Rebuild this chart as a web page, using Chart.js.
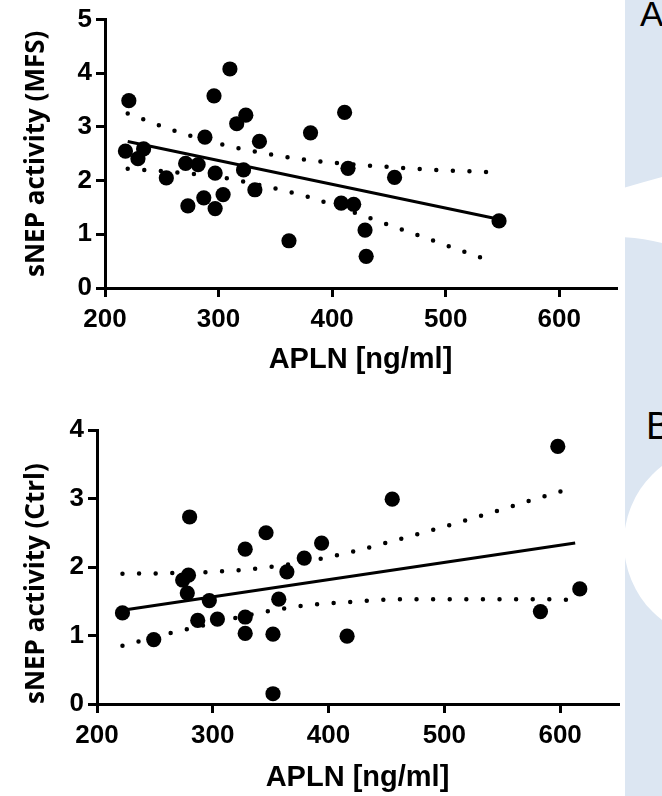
<!DOCTYPE html>
<html>
<head>
<meta charset="utf-8">
<script src="https://cdn.jsdelivr.net/npm/chart.js@4.4.1/dist/chart.umd.min.js"></script>
<style>
  html, body { margin: 0; padding: 0; background: #fff; }
  #page { position: relative; width: 662px; height: 796px; overflow: hidden; }
  #panel { position: absolute; left: 625px; top: 0; }
  .wrap { position: absolute; left: 0; width: 662px; }
  #wrapA { top: 0; height: 390px; }
  #wrapB { top: 390px; height: 406px; }
  .lbl { position: absolute; font-family: "Liberation Sans", Arial, sans-serif; color: #000; line-height: 1.15; }
</style>
</head>
<body>
<div id="page">
  <svg id="panel" width="37" height="796" viewBox="625 0 37 796">
    <rect x="625" y="0" width="37" height="796" fill="#dce6f2"/>
    <path d="M620 189 Q640 183 662 177 L662 243 Q642 238 620 237 Z" fill="#fff"/>
    <circle cx="721" cy="543" r="97" fill="#fff"/>
  </svg>
  <div class="lbl" style="left:640px;top:-6px;font-size:35px;">A</div>
  <div class="lbl" style="left:646px;top:405px;font-size:38px;">B</div>
  <div class="wrap" id="wrapA"><canvas id="chartMfs" width="662" height="390"></canvas></div>
  <div class="wrap" id="wrapB"><canvas id="chartCtrl" width="662" height="406"></canvas></div>
</div>
<script>
// A) MFS
const aplnMfs = [221, 310, 296, 316, 324, 288, 336, 218, 234, 229, 254, 271, 282, 297, 322,
                 332, 304, 287, 273, 297, 362, 411, 381, 414, 455, 408, 419, 429, 430, 547];
const snepMfs = [3.49, 4.08, 3.58, 3.06, 3.22, 2.81, 2.73, 2.55, 2.59, 2.41, 2.05, 2.32, 2.30, 2.14, 2.20,
                 1.83, 1.74, 1.68, 1.53, 1.48, 0.88, 3.27, 2.89, 2.23, 2.06, 1.58, 1.56, 1.08, 0.59, 1.25];
const fitXMfs = [220, 547];
const fitYMfs = [2.73, 1.28];
const ciXMfs = [220, 260, 300, 340, 380, 420, 460, 500, 540];
const ciHiMfs = [3.25, 2.94, 2.69, 2.51, 2.38, 2.30, 2.24, 2.19, 2.16];
const ciLoMfs = [2.22, 2.16, 2.07, 1.90, 1.69, 1.40, 1.10, 0.80, 0.50];
const yTicksMfs = [0, 1, 2, 3, 4, 5];

// B) Ctrl
const aplnCtrl = [280, 346, 328, 279, 274, 278, 364, 379, 394, 455, 598, 297,
                  222, 357, 287, 304, 328, 328, 352, 249, 352, 416, 583, 617];
const snepCtrl = [2.73, 2.50, 2.26, 1.88, 1.81, 1.62, 1.93, 2.13, 2.35, 2.99, 3.76, 1.51,
                  1.33, 1.53, 1.22, 1.24, 1.27, 1.03, 1.02, 0.94, 0.15, 0.99, 1.35, 1.68];
const fitXCtrl = [222, 613];
const fitYCtrl = [1.37, 2.35];
const ciXCtrl = [222, 260, 300, 340, 380, 420, 460, 500, 540, 580, 612];
const ciHiCtrl = [1.90, 1.91, 1.93, 1.98, 2.08, 2.22, 2.40, 2.59, 2.79, 3.00, 3.16];
const ciLoCtrl = [0.85, 1.02, 1.18, 1.33, 1.44, 1.49, 1.53, 1.53, 1.53, 1.53, 1.52];
const yTicksCtrl = [0, 1, 2, 3, 4];

const xTicks = [200, 300, 400, 500, 600];
const xLabel = "APLN [ng/ml]";

const FONT = "'Liberation Sans', Arial, sans-serif";
const pts = (xs, ys) => xs.map((x, i) => ({ x, y: ys[i] }));

function dotted(xs, ys) {
  return {
    data: pts(xs, ys),
    showLine: true,
    borderColor: "#000",
    borderWidth: 4.5,
    borderDash: [0, 16.6],
    borderCapStyle: "round",
    pointRadius: 0,
    cubicInterpolationMode: "monotone",
    clip: false,
  };
}

function makeChart(id, d) {
  return new Chart(document.getElementById(id), {
    type: "scatter",
    data: {
      datasets: [
        { data: pts(d.x, d.y), pointRadius: 7.6, pointHoverRadius: 7.6,
          backgroundColor: "#000", borderWidth: 0, clip: false },
        { data: pts(d.fitX, d.fitY), showLine: true, borderColor: "#000",
          borderWidth: 3, pointRadius: 0, clip: false },
        dotted(d.ciX, d.ciHi),
        dotted(d.ciX, d.ciLo),
      ],
    },
    options: {
      responsive: false,
      animation: false,
      events: [],
      layout: { padding: { left: 0, top: d.padTop, right: d.padRight, bottom: 0 } },
      plugins: { legend: { display: false }, tooltip: { enabled: false } },
      scales: {
        x: {
          type: "linear",
          min: 200,
          max: 650,
          afterFit: (s) => { s.height = d.xHeight; },
          afterBuildTicks: (s) => { s.ticks = xTicks.map((v) => ({ value: v })); },
          ticks: { color: "#000", padding: 7, maxRotation: 0,
                   font: { family: FONT, size: 26, weight: "bold" } },
          grid: { drawOnChartArea: false, color: "#000", lineWidth: 3, tickLength: 9, tickWidth: 3 },
          border: { color: "#000", width: 3 },
          title: { display: true, text: xLabel, color: "#000",
                   font: { family: FONT, size: 29, weight: "bold" },
                   padding: { top: 0, bottom: d.xTitlePad } },
        },
        y: {
          min: 0,
          max: d.yTicks[d.yTicks.length - 1],
          afterFit: (s) => { s.width = d.yWidth; },
          afterBuildTicks: (s) => { s.ticks = d.yTicks.map((v) => ({ value: v })); },
          ticks: { color: "#000", padding: 4,
                   font: { family: FONT, size: 26, weight: "bold" } },
          grid: { drawOnChartArea: false, color: "#000", lineWidth: 3, tickLength: 9, tickWidth: 3 },
          border: { color: "#000", width: 3 },
          title: { display: true, text: d.yLabel, color: "#000", align: d.yTitleAlign,
                   font: { family: "'Open Sans', sans-serif", size: 26, weight: "bold" },
                   padding: { top: 21, bottom: 0 } },
        },
      },
    },
  });
}

makeChart("chartMfs", {
  x: aplnMfs, y: snepMfs, fitX: fitXMfs, fitY: fitYMfs,
  ciX: ciXMfs, ciHi: ciHiMfs, ciLo: ciLoMfs, yTicks: yTicksMfs,
  yLabel: "sNEP activity (MFS)", yTitleAlign: "center",
  padTop: 16, padRight: 46, xHeight: 102, yWidth: 105, xTitlePad: 13,
});

makeChart("chartCtrl", {
  x: aplnCtrl, y: snepCtrl, fitX: fitXCtrl, fitY: fitYCtrl,
  ciX: ciXCtrl, ciHi: ciHiCtrl, ciLo: ciLoCtrl, yTicks: yTicksCtrl,
  yLabel: "sNEP activity (Ctrl)", yTitleAlign: "start",
  padTop: 40, padRight: 44, xHeight: 92, yWidth: 97, xTitlePad: 1,
});
</script>
</body>
</html>
